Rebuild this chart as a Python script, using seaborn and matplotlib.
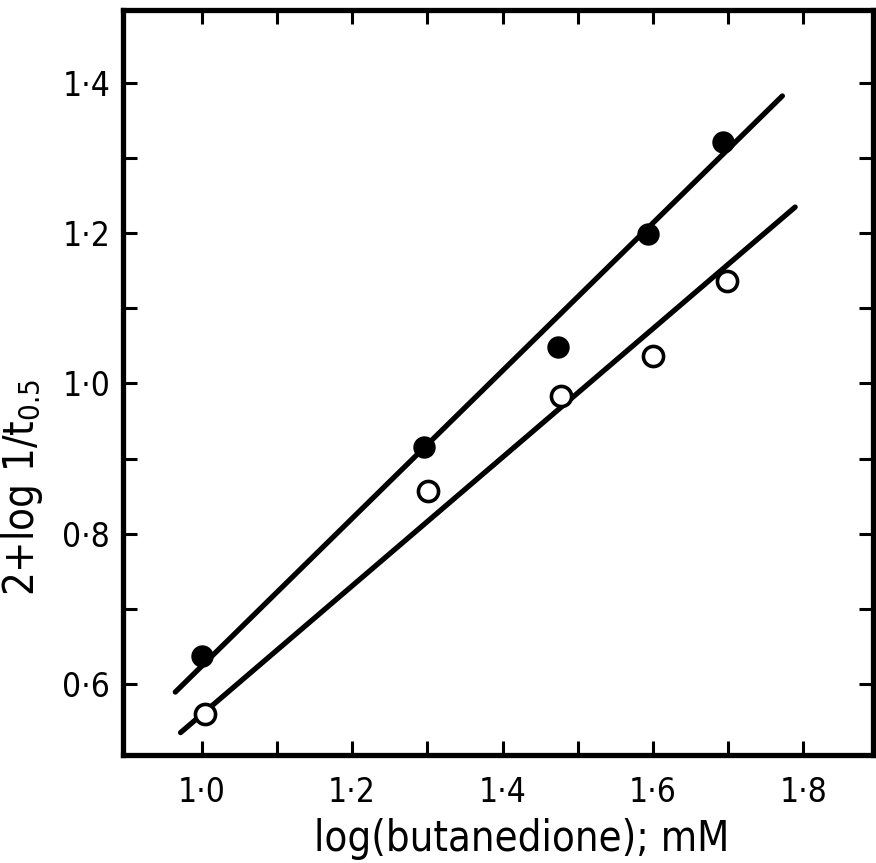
import matplotlib
matplotlib.use("Agg")
import matplotlib.pyplot as plt
import seaborn as sns

# Measured points: log[butanedione] (mM) vs 2 + log(1/t0.5)
x_filled = [1.00, 1.296, 1.474, 1.594, 1.693]
y_filled = [0.637, 0.915, 1.048, 1.199, 1.321]
x_open = [1.004, 1.301, 1.478, 1.600, 1.699]
y_open = [0.560, 0.857, 0.984, 1.036, 1.137]

# End points of the drawn regression lines
fit_filled_x = [0.965, 1.772]
fit_filled_y = [0.589, 1.383]
fit_open_x = [0.972, 1.789]
fit_open_y = [0.535, 1.235]

x_ticks = [1.0, 1.1, 1.2, 1.3, 1.4, 1.5, 1.6, 1.7, 1.8]
x_labels = ["1·0", "", "1·2", "", "1·4", "", "1·6", "", "1·8"]
y_ticks = [0.6, 0.7, 0.8, 0.9, 1.0, 1.1, 1.2, 1.3, 1.4]
y_labels = ["0·6", "", "0·8", "", "1·0", "", "1·2", "", "1·4"]

sns.set_style("ticks")
plt.rcParams["font.family"] = ["DejaVu Sans"]
plt.rcParams["font.stretch"] = "condensed"
plt.rcParams["mathtext.fontset"] = "custom"
plt.rcParams["mathtext.rm"] = "DejaVu Sans:stretch=condensed"
plt.rcParams["mathtext.it"] = "DejaVu Sans:stretch=condensed"
plt.rcParams["axes.labelcolor"] = "black"
plt.rcParams["text.color"] = "black"

fig = plt.figure(figsize=(8.76, 8.63), dpi=100)
ax = fig.add_axes([0.140, 0.125, 0.857, 0.863])

lw = 3.8
sns.lineplot(x=fit_filled_x, y=fit_filled_y, ax=ax, color="black", lw=lw,
             solid_capstyle="round", zorder=2)
sns.lineplot(x=fit_open_x, y=fit_open_y, ax=ax, color="black", lw=lw,
             solid_capstyle="round", zorder=2)

sns.scatterplot(x=x_filled, y=y_filled, ax=ax, s=260, color="black",
                edgecolor="black", linewidth=0, zorder=3)
sns.scatterplot(x=x_open, y=y_open, ax=ax, s=210, facecolor="white",
                edgecolor="black", linewidth=2.6, zorder=4)

ax.set_xlim(0.895, 1.893)
ax.set_ylim(0.505, 1.497)

ax.set_xticks(x_ticks)
ax.set_xticklabels(x_labels)
ax.set_yticks(y_ticks)
ax.set_yticklabels(y_labels)
ax.tick_params(direction="in", length=10, width=2.2, top=True, right=True,
               labelsize=24, colors="black")
ax.tick_params(axis="x", pad=15)
ax.tick_params(axis="y", pad=9)

for s in ax.spines.values():
    s.set_linewidth(3.8)
    s.set_color("black")

ax.set_xlabel("log(butanedione); mM", fontsize=30, color="black")
ax.set_ylabel("2+log 1/t$_{0.5}$", fontsize=30, color="black")
ax.xaxis.set_label_coords(0.531, -0.085)
ax.yaxis.set_label_coords(-0.103, 0.36)

fig.savefig("out.png", dpi=100, facecolor="white")
